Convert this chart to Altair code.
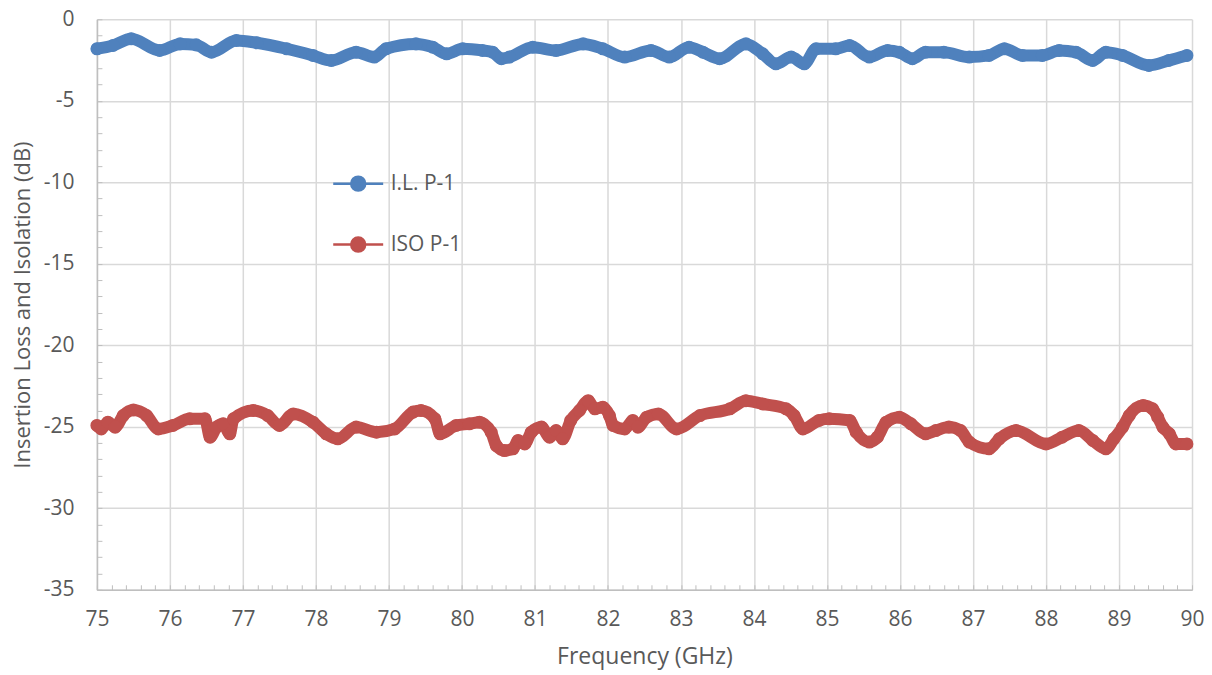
import altair as alt
import pandas as pd

# ---- data ----
il_freq = [75.0, 75.22, 75.47, 75.86, 76.14, 76.36, 76.57, 76.91, 77.19, 77.6,
           77.96, 78.21, 78.55, 78.8, 78.96, 79.37, 79.6, 79.79, 80.01, 80.28,
           80.42, 80.54, 80.65, 80.97, 81.29, 81.66, 81.93, 82.23, 82.59, 82.84,
           83.11, 83.3, 83.53, 83.89, 84.12, 84.3, 84.51, 84.69, 84.85, 85.12,
           85.31, 85.58, 85.83, 85.99, 86.17, 86.35, 86.6, 86.95, 87.22, 87.43,
           87.68, 87.95, 88.18, 88.41, 88.64, 88.82, 89.05, 89.41, 89.68, 89.93]
il_db = [-1.81, -1.61, -1.20, -1.91, -1.51, -1.57, -2.02, -1.30, -1.44, -1.81,
         -2.22, -2.53, -2.02, -2.32, -1.81, -1.51, -1.71, -2.12, -1.81, -1.91,
         -2.02, -2.42, -2.32, -1.71, -1.91, -1.51, -1.81, -2.32, -1.91, -2.32,
         -1.71, -2.02, -2.42, -1.51, -2.12, -2.73, -2.32, -2.73, -1.81, -1.81,
         -1.61, -2.32, -1.91, -2.02, -2.42, -2.02, -2.02, -2.32, -2.22, -1.81,
         -2.22, -2.22, -1.91, -2.02, -2.53, -2.02, -2.22, -2.83, -2.53, -2.22]

iso_freq = [75.0, 75.06, 75.15, 75.25, 75.36, 75.50, 75.68, 75.84, 76.04, 76.27,
            76.48, 76.55, 76.64, 76.73, 76.82, 76.87, 77.14, 77.34, 77.50, 77.69,
            77.96, 78.14, 78.30, 78.55, 78.83, 79.08, 79.33, 79.44, 79.63, 79.70,
            79.92, 80.10, 80.24, 80.40, 80.47, 80.58, 80.70, 80.77, 80.86, 80.95,
            81.09, 81.20, 81.29, 81.38, 81.49, 81.61, 81.73, 81.82, 81.93, 82.02,
            82.07, 82.23, 82.34, 82.41, 82.53, 82.69, 82.94, 83.26, 83.67, 83.89,
            84.12, 84.44, 84.55, 84.67, 84.89, 85.03, 85.31, 85.40, 85.58, 85.69,
            85.81, 85.99, 86.15, 86.35, 86.49, 86.67, 86.83, 86.95, 87.22, 87.36,
            87.59, 88.0, 88.22, 88.45, 88.64, 88.82, 88.93, 89.05, 89.14, 89.33,
            89.46, 89.53, 89.60, 89.69, 89.78, 89.93]
iso_db = [-24.92, -25.13, -24.72, -25.02, -24.31, -23.97, -24.31, -25.13, -24.92, -24.51,
          -24.51, -25.64, -25.02, -24.82, -25.43, -24.51, -24.00, -24.31, -24.92, -24.21,
          -24.72, -25.43, -25.74, -25.02, -25.33, -25.13, -24.10, -24.00, -24.51, -25.43,
          -24.92, -24.82, -24.72, -25.33, -26.15, -26.46, -26.35, -25.84, -26.05, -25.33,
          -25.02, -25.64, -25.23, -25.74, -24.61, -24.00, -23.40, -23.90, -23.80, -24.31,
          -24.92, -25.13, -24.61, -25.02, -24.41, -24.21, -25.13, -24.31, -23.90, -23.40,
          -23.60, -23.90, -24.31, -25.13, -24.61, -24.51, -24.61, -25.33, -25.94, -25.64,
          -24.72, -24.41, -24.82, -25.43, -25.23, -25.02, -25.23, -25.94, -26.35, -25.74,
          -25.23, -26.05, -25.64, -25.23, -25.84, -26.35, -25.74, -25.02, -24.31, -23.70,
          -23.90, -24.41, -25.02, -25.43, -26.05, -26.05]

series_names = ["I.L. P-1", "ISO P-1"]
series_colors = ["#4f81bd", "#c0504d"]

x_major = list(range(75, 91))
x_minor = [round(75 + 0.2 * i, 1) for i in range(76)]
y_major = list(range(-35, 1, 5))
y_minor = list(range(-35, 1))

df = pd.concat([
    pd.DataFrame({"freq": il_freq, "db": il_db, "series": series_names[0]}),
    pd.DataFrame({"freq": iso_freq, "db": iso_db, "series": series_names[1]}),
], ignore_index=True)

W, H = 1096, 571
FONT = "Open Sans"
TXT = "#595959"
GRID = "#d9d9d9"
AX = "#bfbfbf"
HYPHEN = "datum.value < 0 ? '-' + abs(datum.value) : '' + datum.value"

xscale = alt.Scale(domain=[75, 90], nice=False, zero=False)
yscale = alt.Scale(domain=[-35, 0], nice=False, zero=False)

legend_path = "M-1,0H1M-0.28,0A0.28,0.28,0,1,1,0.28,0A0.28,0.28,0,1,1,-0.28,0Z"
color = alt.Color("series:N",
                  scale=alt.Scale(domain=series_names, range=series_colors),
                  legend=alt.Legend(title=None, orient="none", legendX=235, legendY=138,
                                    symbolType=legend_path, symbolSize=2500,
                                    symbolStrokeWidth=2.5, labelFontSize=21,
                                    labelFont=FONT, labelColor=TXT, labelOffset=6,
                                    rowPadding=22, padding=0))

x_main = alt.X("freq:Q", scale=xscale,
               axis=alt.Axis(values=x_major, title="Frequency (GHz)", ticks=False,
                             grid=True, gridColor=GRID, gridWidth=1.5,
                             domainColor=AX, domainWidth=1.5, labelFlush=False,
                             labelFontSize=21, labelFont=FONT, labelColor=TXT,
                             labelPadding=19, titleFontSize=23, titleFont=FONT,
                             titleColor=TXT, titleFontWeight="normal", titlePadding=16))
y_main = alt.Y("db:Q", scale=yscale,
               axis=alt.Axis(values=y_major, title="Insertion Loss and Isolation (dB)",
                             ticks=False, grid=True, gridColor=GRID, gridWidth=1.5,
                             domainColor=AX, domainWidth=1.5, labelExpr=HYPHEN,
                             labelFlush=False,
                             labelFontSize=21, labelFont=FONT, labelColor=TXT,
                             labelPadding=23, titleFontSize=22, titleFont=FONT,
                             titleColor=TXT, titleFontWeight="normal", titlePadding=9))

base = alt.Chart(df)

lines = base.mark_line(strokeWidth=12, strokeJoin="round", strokeCap="round",
                       interpolate="monotone").encode(
    x=x_main, y=y_main, color=color, detail="series:N")
points = base.mark_circle(size=170, opacity=1).encode(
    x=alt.X("freq:Q", scale=xscale, axis=None),
    y=alt.Y("db:Q", scale=yscale, axis=None),
    color=color)

minor = base.mark_point(opacity=0).encode(
    x=alt.X("freq:Q", scale=xscale,
            axis=alt.Axis(orient="top", offset=-H, values=x_minor, labels=False,
                          domain=False, grid=False, tickColor=AX, tickWidth=1,
                          tickSize=5, title=None)),
    y=alt.Y("db:Q", scale=yscale,
            axis=alt.Axis(orient="right", offset=-W, values=y_minor, labels=False,
                          domain=False, grid=False, tickColor=AX, tickWidth=1,
                          tickSize=5, title=None)),
)

chart = alt.layer(lines, points, minor).resolve_axis(x="independent", y="independent").properties(
    width=W, height=H,
    padding={"left": 89, "top": 11, "right": 12, "bottom": 80},
    autosize=alt.AutoSizeParams(type="none"),
).configure_view(stroke=None)

chart.save("out.html", embed_options={"renderer": "svg", "actions": False})
